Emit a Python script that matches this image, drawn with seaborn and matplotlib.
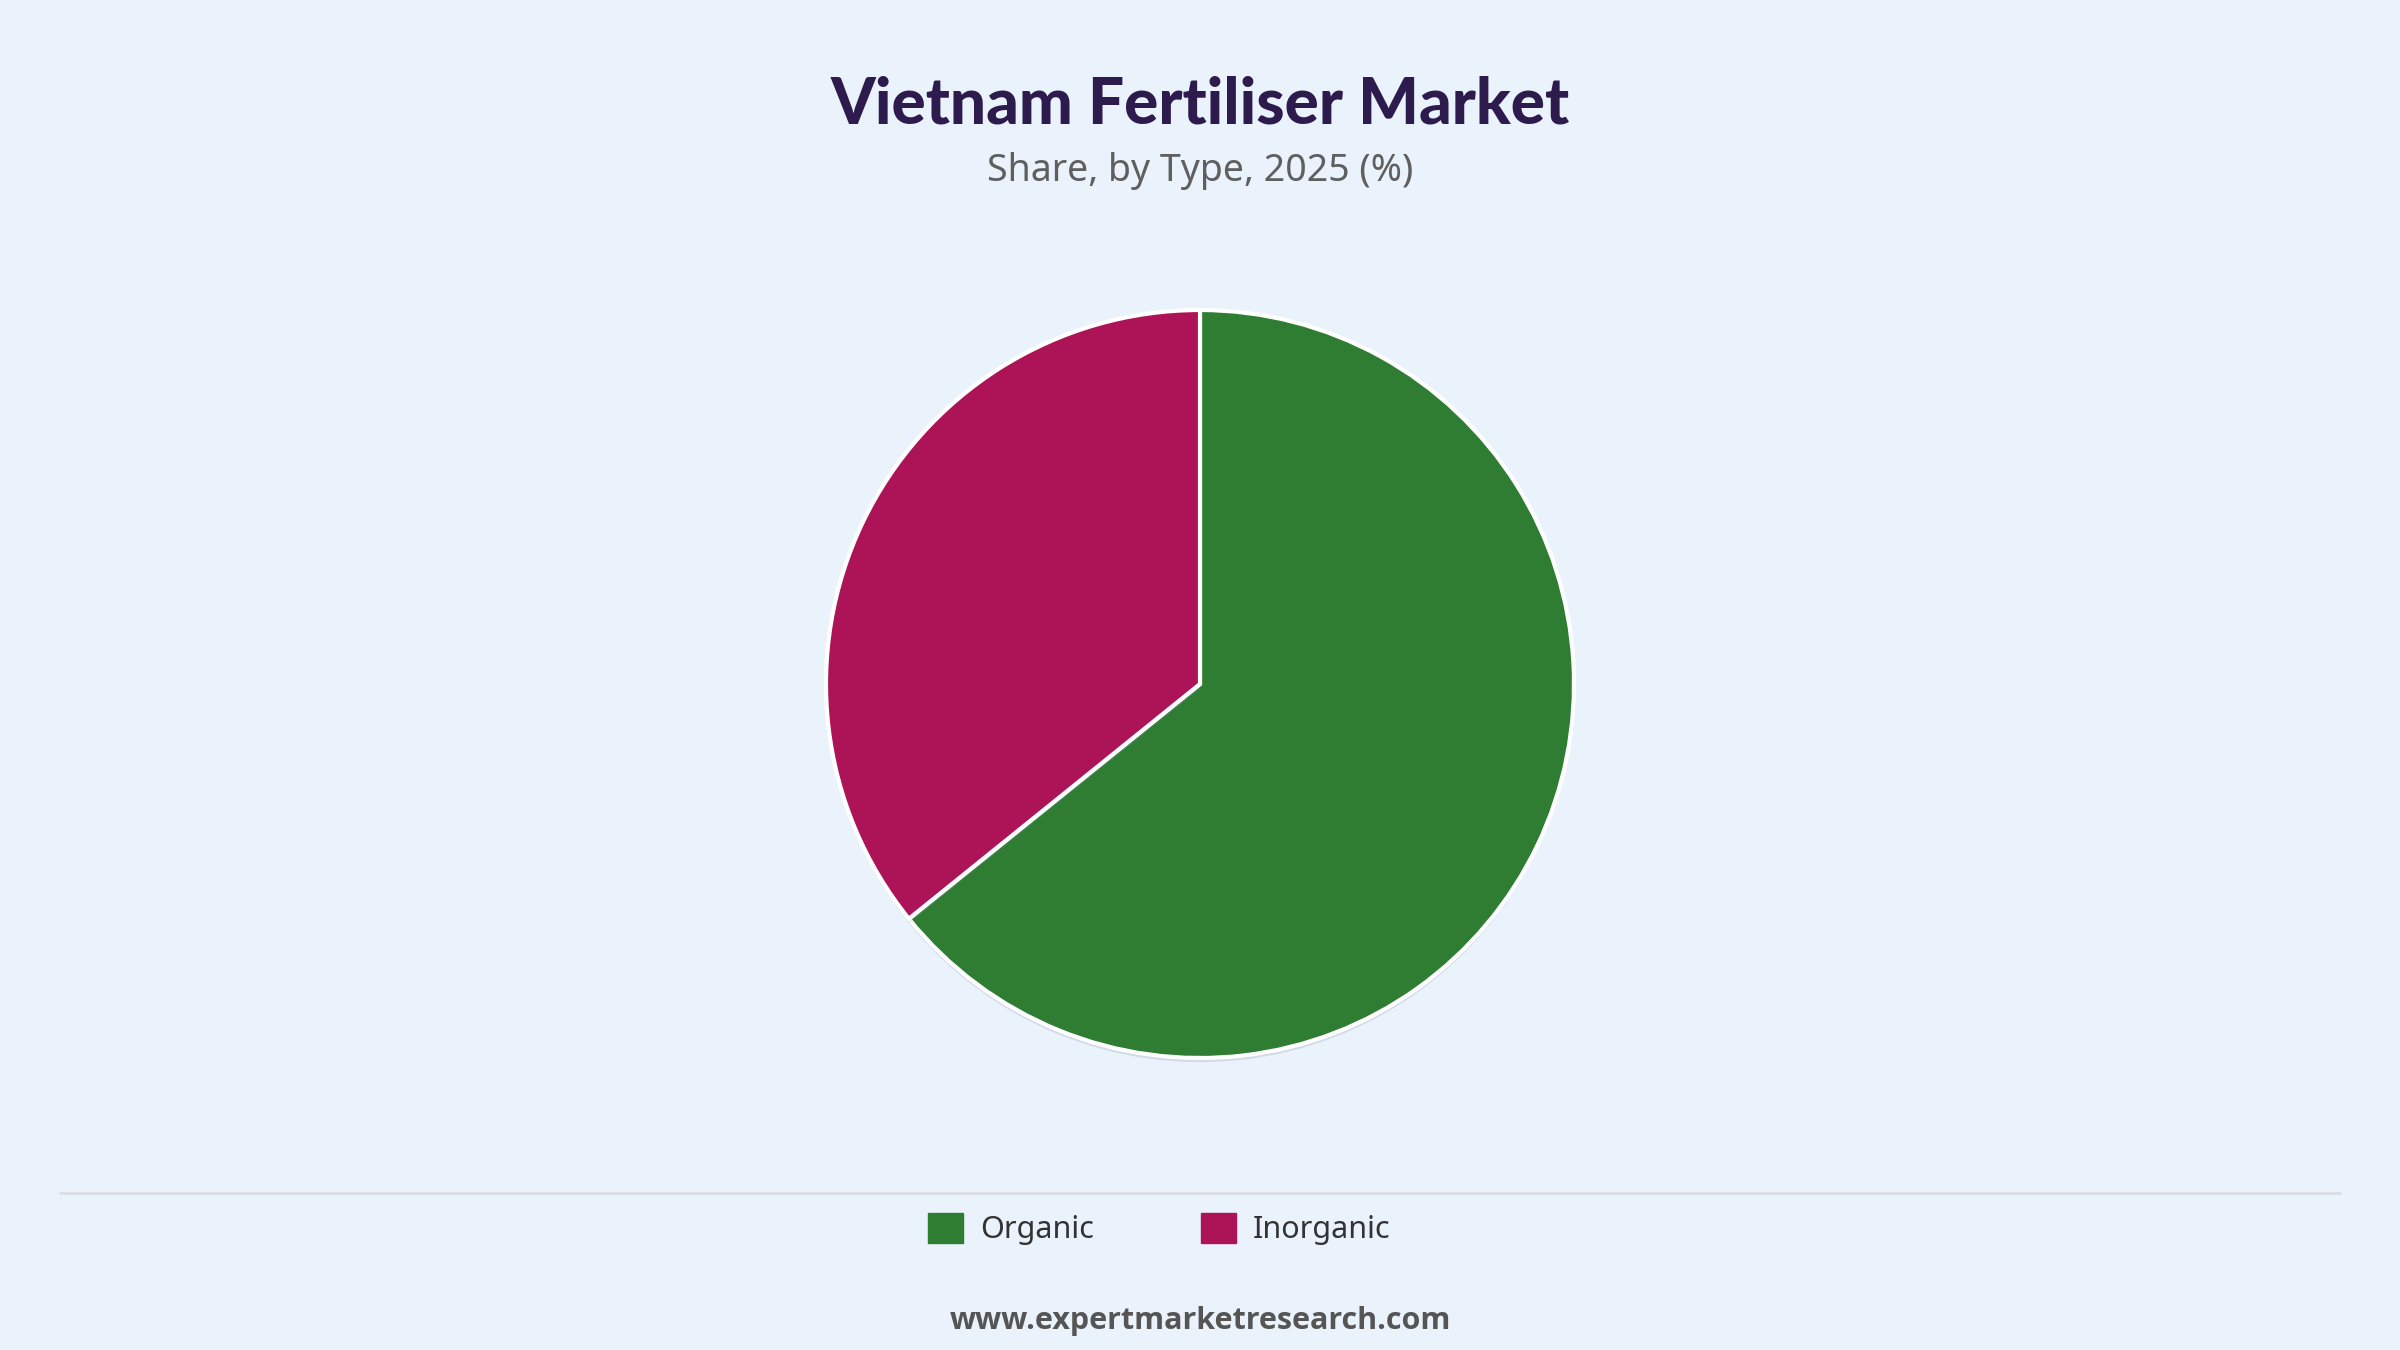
import matplotlib
matplotlib.use("Agg")
import matplotlib.pyplot as plt
import matplotlib.patheffects as pe
from matplotlib.patches import Patch
from matplotlib.lines import Line2D
import seaborn as sns

# data
types = ["Organic", "Inorganic"]
shares = [64.2, 35.8]
colors = ["#2E7D32", "#AD1457"]

title = "Vietnam Fertiliser Market"
subtitle = "Share, by Type, 2025 (%)"
source = "www.expertmarketresearch.com"

bg = "#EAF2FB"

sns.set_theme(style="white")
plt.rcParams["font.family"] = ["Noto Sans", "DejaVu Sans"]

fig = plt.figure(figsize=(24, 13.5), dpi=100)
fig.patch.set_facecolor(bg)

# pie axes: centre ~(1200, 684) px, radius ~374 px
size = 2 * 374 * 1.02
ax = fig.add_axes([(1200 - size / 2) / 2400, (1350 - 684 - size / 2) / 1350,
                   size / 2400, size / 1350])
ax.set_facecolor(bg)
wedges, _ = ax.pie(
    shares,
    colors=colors,
    startangle=90,
    counterclock=False,
    radius=1,
    wedgeprops=dict(edgecolor="white", linewidth=3),
)
for w in wedges:
    w.set_path_effects([
        pe.SimplePatchShadow(offset=(0, -3), shadow_rgbFace="#9aa8bb", alpha=0.3),
        pe.Normal(),
    ])
ax.set_xlim(-1.02, 1.02)
ax.set_ylim(-1.02, 1.02)
ax.set_aspect("equal")
ax.axis("off")

# titles
fig.text(0.5, 0.9225, title, ha="center", va="center", fontsize=46,
         fontweight="black", family=["Lato", "DejaVu Sans"], color="#2D1B4E")
fig.text(0.5, 0.8735, subtitle, ha="center", va="center", fontsize=27,
         color="#5F5F5F")

# divider
fig.add_artist(Line2D([0.025, 0.975], [1 - 1193 / 1350] * 2,
                      color="#DADDE2", linewidth=2, transform=fig.transFigure))

# legend
handles = [Patch(facecolor=c, edgecolor=c, label=t) for t, c in zip(types, colors)]
leg = fig.legend(handles=handles, loc="center", bbox_to_anchor=(0.483, 1 - 1229 / 1350),
                 ncol=2, frameon=False, fontsize=22, handlelength=1.15, handleheight=1.15,
                 handletextpad=0.55, columnspacing=3.5)
for t in leg.get_texts():
    t.set_color("#333333")

fig.text(0.5, 1 - 1321 / 1350, source, ha="center", va="center", fontsize=22,
         fontweight="bold", family=["Open Sans", "DejaVu Sans"], color="#555555")

fig.savefig("out.png", dpi=100, facecolor=bg)
